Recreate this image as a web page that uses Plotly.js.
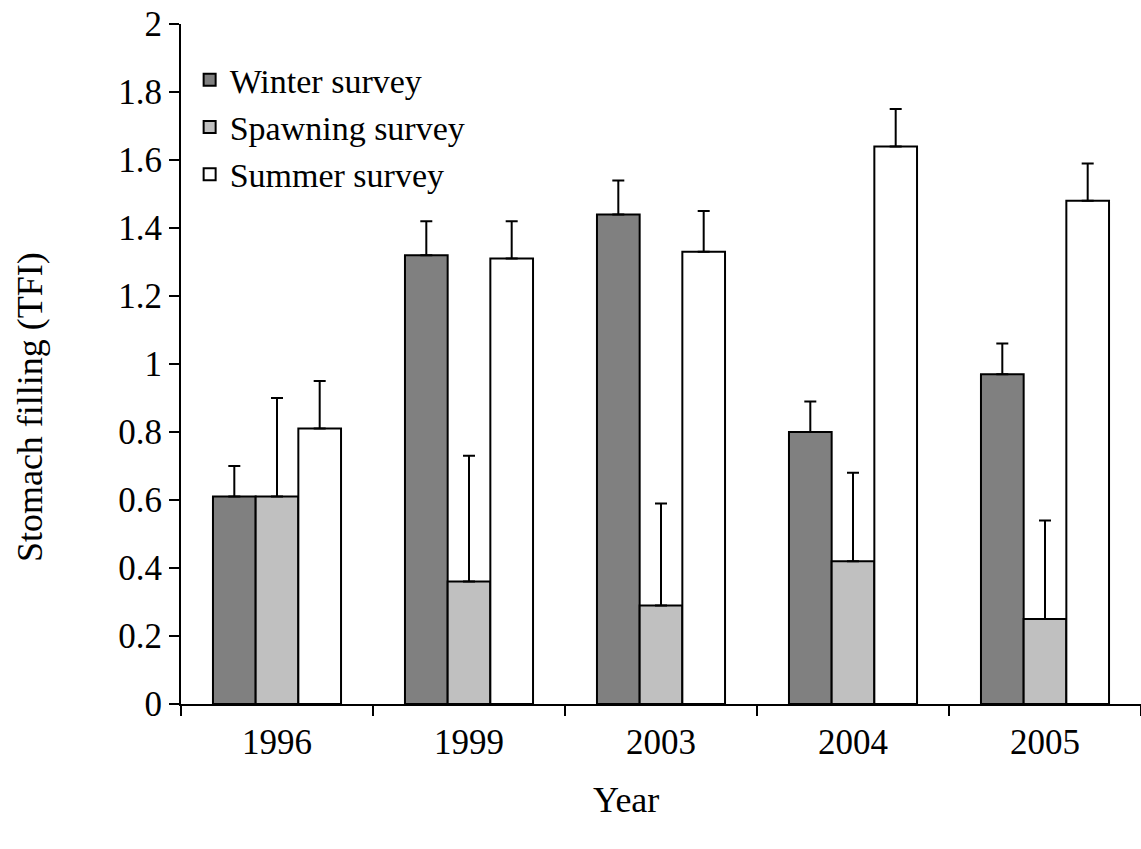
<!DOCTYPE html>
<html>
<head>
<meta charset="utf-8">
<script src="https://cdn.plot.ly/plotly-3.0.1.min.js"></script>
<style>html,body{margin:0;padding:0;background:#fff;}#chart{width:1141px;height:849px;}</style>
</head>
<body>
<div id="chart"></div>
<script>
const years = ['1996', '1999', '2003', '2004', '2005'];
const winter = [0.61, 1.32, 1.44, 0.80, 0.97];
const winterErr = [0.09, 0.10, 0.10, 0.09, 0.09];
const spawning = [0.61, 0.36, 0.29, 0.42, 0.25];
const spawningErr = [0.29, 0.37, 0.30, 0.26, 0.29];
const summer = [0.81, 1.31, 1.33, 1.64, 1.48];
const summerErr = [0.14, 0.11, 0.12, 0.11, 0.11];
const yTicks = [0, 0.2, 0.4, 0.6, 0.8, 1, 1.2, 1.4, 1.6, 1.8, 2];
const xTitle = 'Year';
const yTitle = 'Stomach filling (TFI)';

const zeros = years.map(() => 0);
function mk(name, y, err, color, grp) {
  return {
    type: 'bar', name: name, x: years, y: y, legendgroup: grp,
    marker: {color: color, line: {color: '#000', width: 2}},
    error_y: {type: 'data', symmetric: false, array: err, arrayminus: zeros,
              color: '#000', thickness: 2, width: 6}
  };
}
const data = [
  mk('Winter survey', winter, winterErr, '#808080', 'a'),
  mk('Spawning survey', spawning, spawningErr, '#c0c0c0', 'b'),
  mk('Summer survey', summer, summerErr, '#ffffff', 'c')
];
const font = {family: 'Liberation Serif, Times New Roman, serif', color: '#000'};
const layout = {
  width: 1141, height: 849,
  margin: {l: 181, r: 0, t: 24, b: 145},
  paper_bgcolor: '#fff', plot_bgcolor: '#fff',
  barmode: 'group', bargap: 0.333, bargroupgap: 0,
  font: Object.assign({size: 34}, font),
  showlegend: true,
  legend: {x: 0.009, y: 0.96, xanchor: 'left', yanchor: 'top',
           font: Object.assign({size: 34}, font), bgcolor: 'rgba(0,0,0,0)',
           traceorder: 'grouped', tracegroupgap: 0, itemwidth: 30},
  xaxis: {
    type: 'category', range: [-0.5, 4.5], tickson: 'boundaries',
    showline: true, linecolor: '#000', linewidth: 2,
    ticks: 'outside', ticklen: 10, tickwidth: 2, tickcolor: '#000',
    ticklabelstandoff: 6,
    showgrid: false, zeroline: false,
    tickfont: Object.assign({size: 35}, font)
  },
  yaxis: {
    range: [0, 2], tickvals: yTicks, ticktext: yTicks.map(String),
    showline: true, linecolor: '#000', linewidth: 2,
    ticks: 'outside', ticklen: 10, tickwidth: 2, tickcolor: '#000',
    showgrid: false, zeroline: false,
    tickfont: Object.assign({size: 35}, font)
  },
  annotations: [
    {text: xTitle, xref: 'paper', yref: 'paper', x: 0.4635, y: -0.141,
     xanchor: 'center', yanchor: 'middle', showarrow: false,
     font: Object.assign({size: 36}, font)},
    {text: yTitle, xref: 'paper', yref: 'paper', x: -0.157, y: 0.437,
     xanchor: 'center', yanchor: 'middle', showarrow: false, textangle: -90,
     font: Object.assign({size: 36}, font)}
  ]
};
Plotly.newPlot('chart', data, layout, {displayModeBar: false, staticPlot: true});
</script>
</body>
</html>
